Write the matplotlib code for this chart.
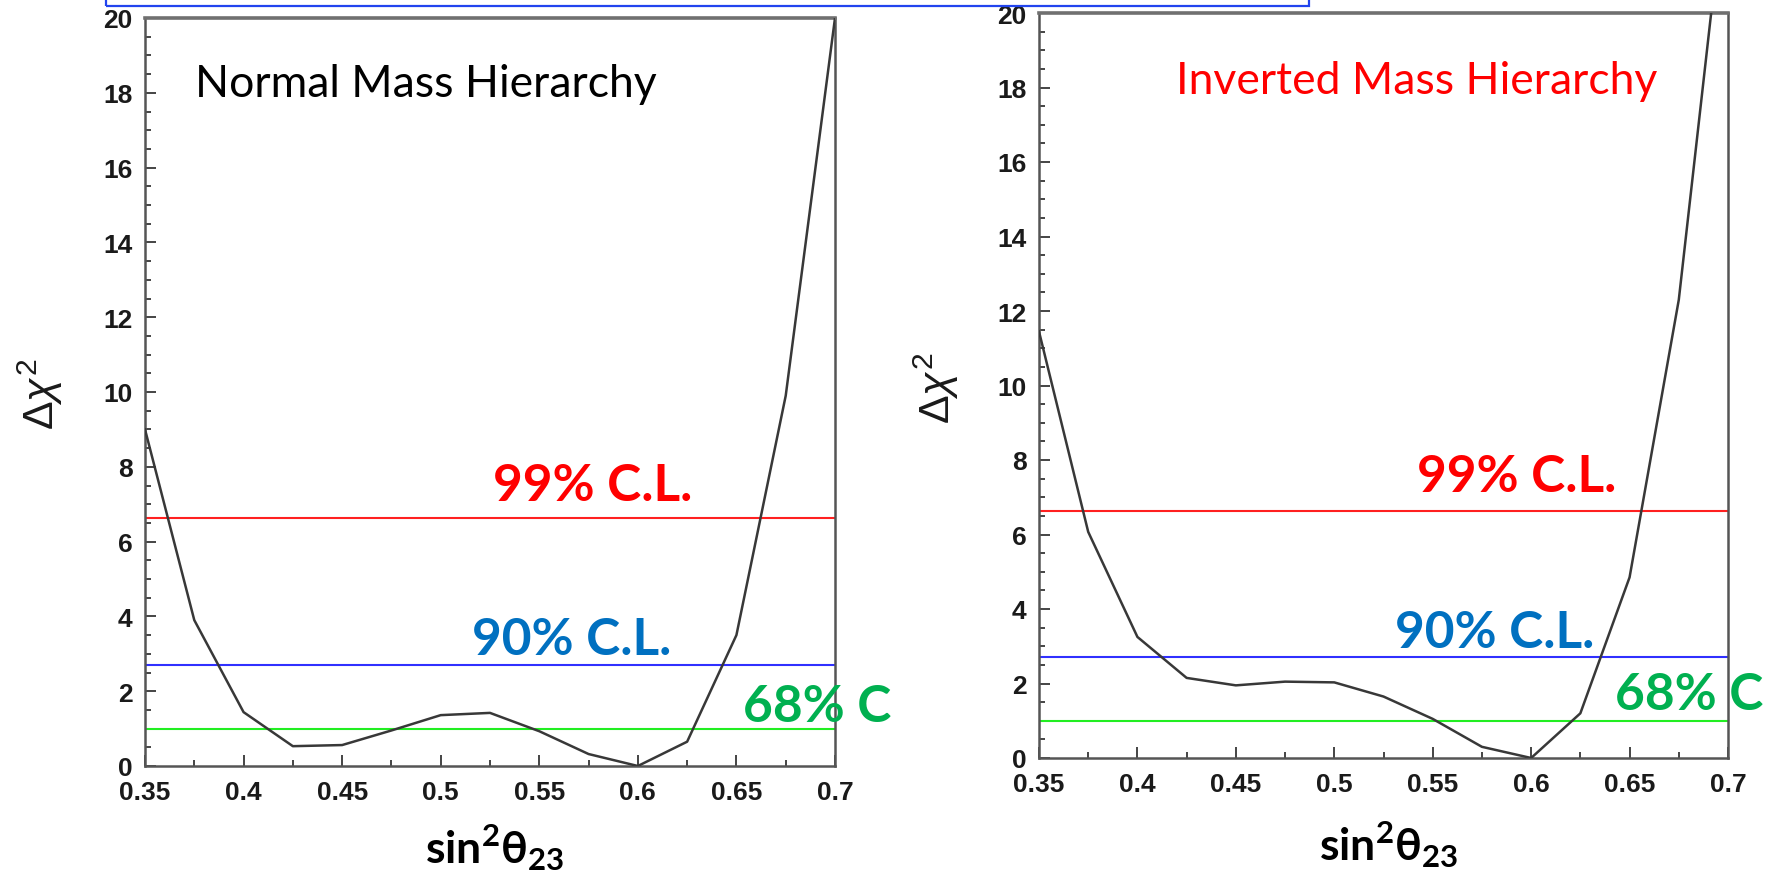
import matplotlib
matplotlib.use('Agg')
import matplotlib.pyplot as plt
from matplotlib.patches import Rectangle
from matplotlib.ticker import FixedLocator, MultipleLocator

# ---------------- data ----------------
sin2_theta23 = [0.35, 0.375, 0.40, 0.425, 0.45, 0.475, 0.50, 0.525,
                0.55, 0.575, 0.60, 0.625, 0.65, 0.675, 0.70]
dchi2_normal = [9.0, 3.9, 1.44, 0.53, 0.56, 0.95, 1.36, 1.42,
                0.93, 0.32, 0.0, 0.65, 3.5, 9.9, 20.0]
dchi2_inverted = [11.45, 6.07, 3.25, 2.15, 1.95, 2.05, 2.03, 1.65,
                  1.05, 0.3, 0.0, 1.2, 4.85, 12.3, 24.0]

cl_levels = [6.63, 2.71, 1.0]
cl_labels = ['99% C.L.', '90% C.L.', '68% C']
cl_line_colors = ['#ff2020', '#3030ff', '#22ee22']
cl_text_colors = ['#ff0000', '#0070c0', '#00b050']

x_ticks = [0.35, 0.40, 0.45, 0.50, 0.55, 0.60, 0.65, 0.70]
x_tick_labels = ['0.35', '0.4', '0.45', '0.5', '0.55', '0.6', '0.65', '0.7']
y_ticks = [0, 2, 4, 6, 8, 10, 12, 14, 16, 18, 20]
y_tick_labels = ['0', '2', '4', '6', '8', '10', '12', '14', '16', '18', '20']

panel_titles = ['Normal Mass Hierarchy', 'Inverted Mass Hierarchy']
panel_title_colors = ['#000000', '#ff0000']
x_label = r'$\mathbf{sin}^{\mathbf{2}}\mathbf{\theta}_{\mathbf{23}}$'
y_label = r'$\Delta\mathit{\chi}^{2}$'

# ---------------- style ----------------
plt.rcParams['mathtext.fontset'] = 'custom'
plt.rcParams['mathtext.rm'] = 'Lato'
plt.rcParams['mathtext.bf'] = 'Lato:bold'
plt.rcParams['mathtext.it'] = 'Liberation Sans:italic'
plt.rcParams['mathtext.fallback'] = 'stixsans'
plt.rcParams['mathtext.default'] = 'regular'

W, H = 1774, 878
fig = plt.figure(figsize=(W / 100, H / 100), dpi=100)
fig.patch.set_facecolor('white')


def fx(x):
    return x / W


def fy(y):
    return 1 - y / H


def add_axes_px(left, top, right, bottom):
    return fig.add_axes([fx(left), fy(bottom), (right - left) / W, (bottom - top) / H])


ax_l = add_axes_px(145, 19, 835, 767)
ax_r = add_axes_px(1039, 14, 1728, 759)

spine_col = '#555555'
for ax, ydata in ((ax_l, dchi2_normal), (ax_r, dchi2_inverted)):
    ax.plot(sin2_theta23, ydata, color='#383838', lw=1.8, zorder=3)
    for lev, lc in zip(cl_levels, cl_line_colors):
        ax.axhline(lev, color=lc, lw=1.5, zorder=2)
    ax.set_xlim(0.35, 0.70)
    ax.set_ylim(0, 20)
    ax.xaxis.set_major_locator(FixedLocator(x_ticks))
    ax.set_xticklabels(x_tick_labels)
    ax.xaxis.set_minor_locator(MultipleLocator(0.025))
    ax.yaxis.set_major_locator(FixedLocator(y_ticks))
    ax.set_yticklabels(y_tick_labels)
    ax.yaxis.set_minor_locator(MultipleLocator(0.5))
    ax.tick_params(which='both', direction='in', top=False, right=False,
                   color='#444444', width=1.4)
    ax.tick_params(which='major', length=8)
    ax.tick_params(which='minor', length=4.5)
    ax.tick_params(axis='x', which='major', pad=10)
    ax.tick_params(axis='y', which='major', pad=9)
    for lab in ax.get_xticklabels() + ax.get_yticklabels():
        lab.set_fontfamily('Liberation Sans')
        lab.set_fontweight('bold')
        lab.set_fontsize(19)
        lab.set_color('#1a1a1a')
    for sp in ax.spines.values():
        sp.set_color(spine_col)
        sp.set_linewidth(1.8)
    ax.spines['top'].set_linewidth(2.6)
    ax.spines['top'].set_color('#707070')

# blue box edge at the top
fig.patches.append(Rectangle((fx(106), fy(7)), (1309 - 106) / W, 0.2,
                             transform=fig.transFigure, fill=False,
                             edgecolor='#2244ee', lw=1.6, clip_on=False))

# panel titles
fig.text(fx(195), fy(97), panel_titles[0], color=panel_title_colors[0],
         family='Lato', fontsize=32, ha='left', va='baseline')
fig.text(fx(1176), fy(94), panel_titles[1], color=panel_title_colors[1],
         family='Lato', fontsize=32, ha='left', va='baseline')

# confidence level labels (left, right)
cl_pos_left = [(493, 501), (472, 655), (743, 722)]
cl_pos_right = [(1417, 492), (1395, 648), (1615, 710)]
for pos_set in (cl_pos_left, cl_pos_right):
    for (px, py), txt, col in zip(pos_set, cl_labels, cl_text_colors):
        fig.text(fx(px), fy(py), txt, color=col, family='Lato',
                 fontweight='bold', fontsize=37, ha='left', va='baseline')

# axis labels
fig.text(fx(495), fy(864), x_label, fontsize=32, ha='center', va='baseline',
         color='black')
fig.text(fx(1389), fy(861), x_label, fontsize=32, ha='center', va='baseline',
         color='black')
fig.text(fx(40), fy(394), y_label, family='Liberation Sans', fontsize=31,
         rotation=90, ha='center', va='center', color='#1a1a1a')
fig.text(fx(936), fy(388), y_label, family='Liberation Sans', fontsize=31,
         rotation=90, ha='center', va='center', color='#1a1a1a')

fig.savefig('out.png', dpi=100, facecolor='white')
